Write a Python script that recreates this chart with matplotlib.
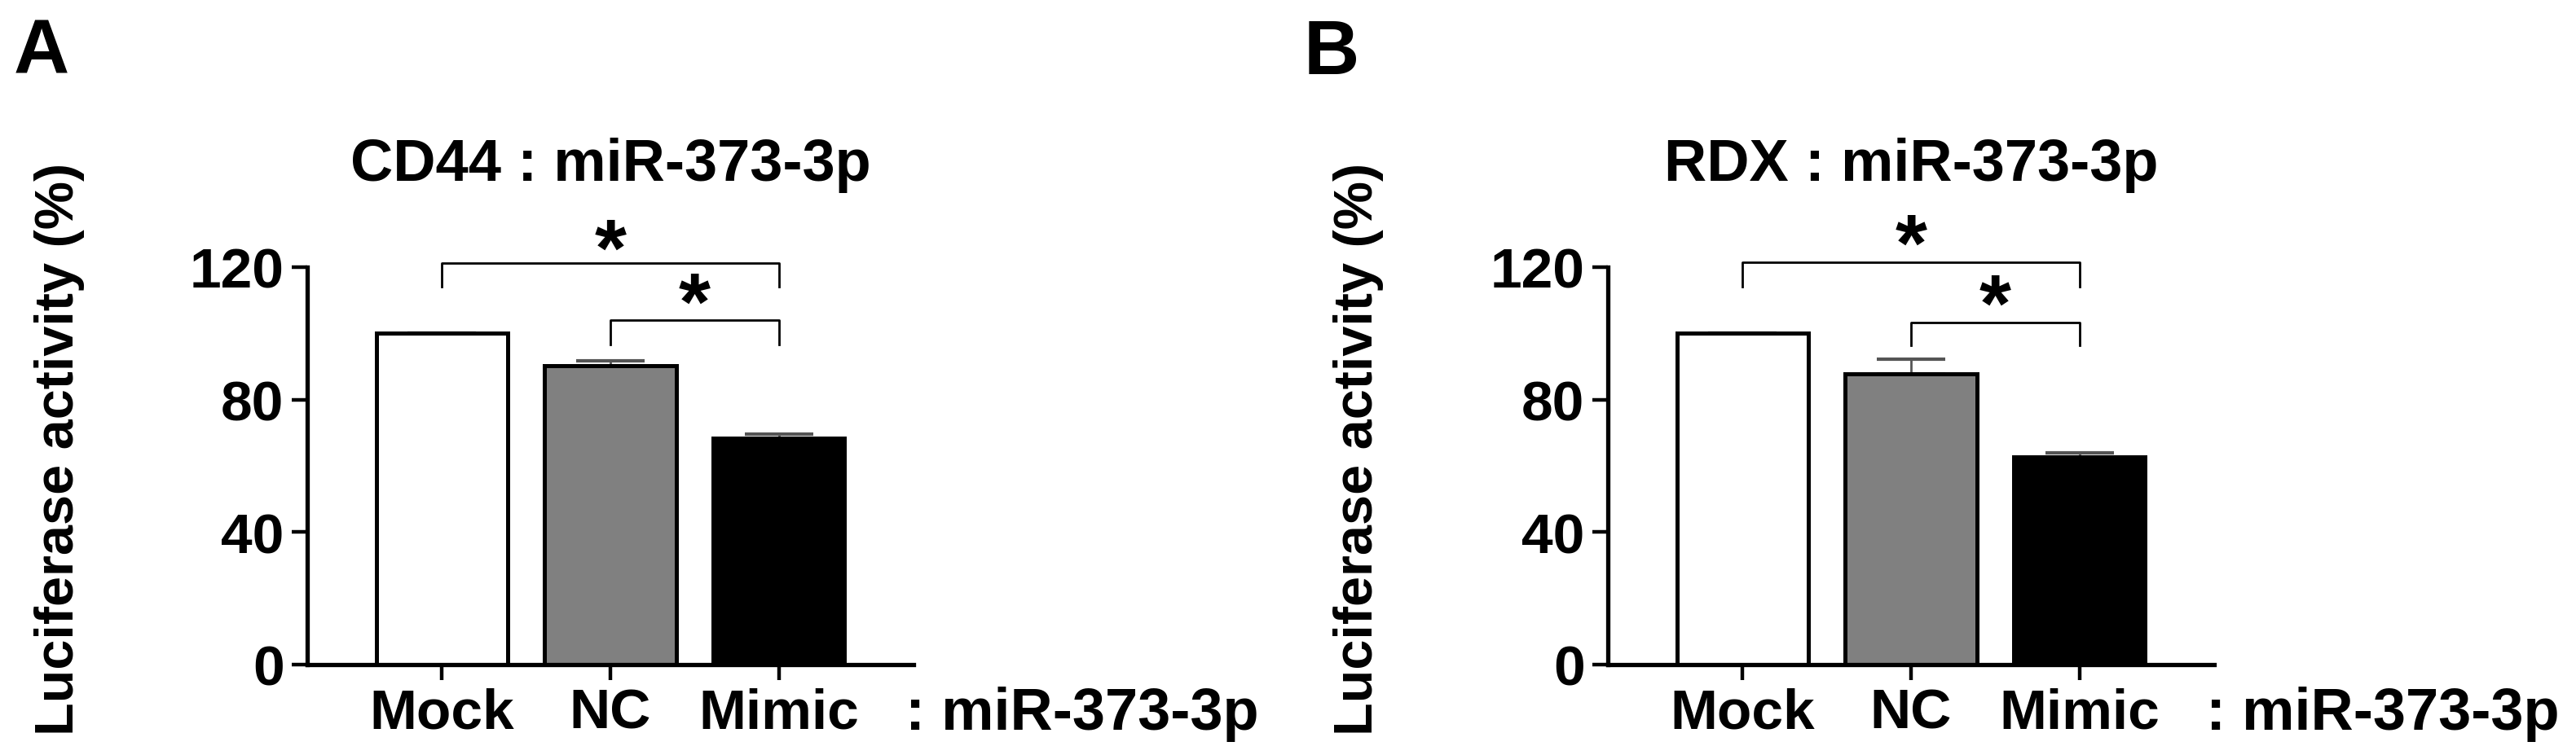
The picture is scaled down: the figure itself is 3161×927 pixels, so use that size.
import numpy as np
import matplotlib
matplotlib.use('Agg')
import matplotlib.pyplot as plt

# Set the font
plt.rcParams['font.family'] = ['Liberation Sans', 'DejaVu Sans']
plt.rcParams['font.weight'] = 'bold'

# Data
groups = ['Mock', 'NC', 'Mimic']
cd44_mean = [100, 90.3, 68.4]
cd44_err = [0, 1.3, 1.2]
rdx_mean = [100, 87.8, 62.6]
rdx_err = [0, 4.4, 1.3]
titles = ['CD44 : miR-373-3p', 'RDX : miR-373-3p']
panel_letters = ['A', 'B']
bar_colors = ['white', '#808080', 'black']

# brackets: (x1, x2, y bar, y leg end, y star)
cd44_brackets = [(0, 2, 121.3, 114.2, 130.5), (1, 2, 103.9, 96.6, 114.5)]
rdx_brackets = [(0, 2, 121.5, 114.0, 132.0), (1, 2, 103.4, 96.4, 114.0)]

W, H = 3161, 928
fig = plt.figure(figsize=(W / 100, H / 100), dpi=100)

panels = [
    (377, cd44_mean, cd44_err, cd44_brackets, 73, 17),
    (1973, rdx_mean, rdx_err, rdx_brackets, 1667, 1600),
]

for i, (left, means, errs, brackets, ylab_x, letter_x) in enumerate(panels):
    ax = fig.add_axes([left / W, (H - 817) / H, 744 / W, 488 / H])
    x = np.arange(len(groups))
    ax.bar(x, means, width=0.78, color=bar_colors, edgecolor='black',
           linewidth=3.6, zorder=2)
    # upper error bars only
    ax.errorbar(x, means, yerr=[np.zeros(len(errs)), errs], fmt='none',
                ecolor='#555555', elinewidth=2, capsize=30, capthick=3,
                zorder=1)
    ax.set_xlim(-0.8, 2.8)
    ax.set_ylim(0, 120)
    ax.set_yticks([0, 40, 80, 120])
    ax.set_xticks(x)
    ax.set_xticklabels(groups)
    for s in ['top', 'right']:
        ax.spines[s].set_visible(False)
    for s in ['left', 'bottom']:
        ax.spines[s].set_linewidth(3.8)
    ax.tick_params(axis='both', length=13.5, width=3.2, labelsize=50)
    ax.tick_params(axis='x', pad=6)
    ax.tick_params(axis='y', pad=7)

    for x1, x2, yb, yl, ys in brackets:
        ax.plot([x1, x1, x2, x2], [yl, yb, yb, yl], color='black', lw=2,
                clip_on=False)
        ax.text((x1 + x2) / 2, ys - 13, '*', ha='center', va='baseline',
                fontsize=72, clip_on=False)

    ax.text(0.5, 1.219, titles[i], transform=ax.transAxes, ha='center',
            va='baseline', fontsize=52)
    ax.text(0.9866, -0.162, ': miR-373-3p', transform=ax.transAxes,
            ha='left', va='baseline', fontsize=52)
    fig.text(ylab_x / W, (H - 551) / H, 'Luciferase activity (%)',
             rotation=90, ha='center', va='center', fontsize=48)
    fig.text(letter_x / W, 1 - 22 / H, panel_letters[i], ha='left', va='top',
             fontsize=68)

plt.savefig('out.png', dpi=100)
